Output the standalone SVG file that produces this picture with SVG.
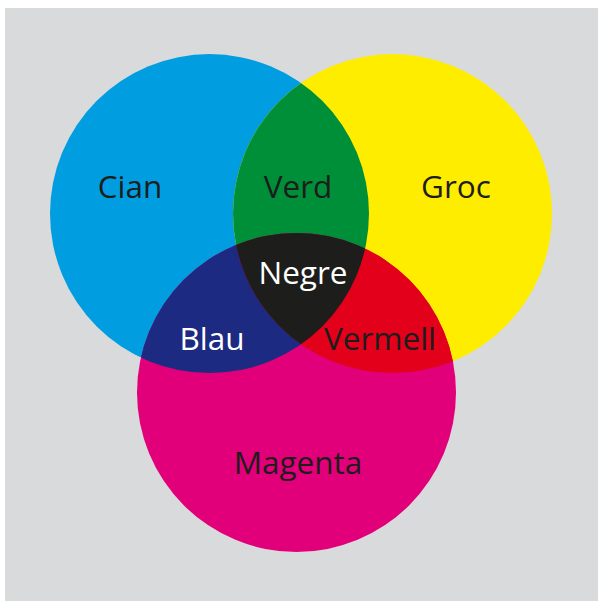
<svg xmlns="http://www.w3.org/2000/svg" width="598" height="601" viewBox="0 0 598 601">
  <style>
    .lbl { font-family: "Open Sans", "Noto Sans", sans-serif; font-size: 31.5px; text-anchor: middle; fill: #1d1d1b; }
    .w { fill: #ffffff; }
  </style>
  <defs>
    <clipPath id="cC"><circle cx="209.5" cy="213.6" r="159.5"/></clipPath>
    <clipPath id="cY"><circle cx="392.5" cy="213.6" r="159.5"/></clipPath>
  </defs>
  <rect x="5" y="8" width="593" height="593" fill="#d9dadb"/>
  <g id="cian">
    <circle cx="209.5" cy="213.6" r="159.5" fill="#009ee0"/>
    <text class="lbl" x="130" y="198">Cian</text>
  </g>
  <g id="groc">
    <circle cx="392.5" cy="213.6" r="159.5" fill="#ffed00"/>
    <text class="lbl" x="456" y="198">Groc</text>
  </g>
  <g id="magenta">
    <circle cx="296.5" cy="392.5" r="159.5" fill="#e2007a"/>
    <text class="lbl" x="298" y="474">Magenta</text>
  </g>
  <g id="verd">
    <g clip-path="url(#cC)"><circle cx="392.5" cy="213.6" r="159.5" fill="#008f39"/></g>
    <text class="lbl" x="298" y="198">Verd</text>
  </g>
  <g id="blau">
    <g clip-path="url(#cC)"><circle cx="296.5" cy="392.5" r="159.5" fill="#1d2a82"/></g>
    <text class="lbl w" x="212" y="350">Blau</text>
  </g>
  <g id="vermell">
    <g clip-path="url(#cY)"><circle cx="296.5" cy="392.5" r="159.5" fill="#e2001a"/></g>
    <text class="lbl" x="380" y="350">Vermell</text>
  </g>
  <g id="negre">
    <g clip-path="url(#cC)"><g clip-path="url(#cY)"><circle cx="296.5" cy="392.5" r="159.5" fill="#1d1d1b"/></g></g>
    <text class="lbl w" x="303" y="284">Negre</text>
  </g>
  <g id="connectors"/>
</svg>
